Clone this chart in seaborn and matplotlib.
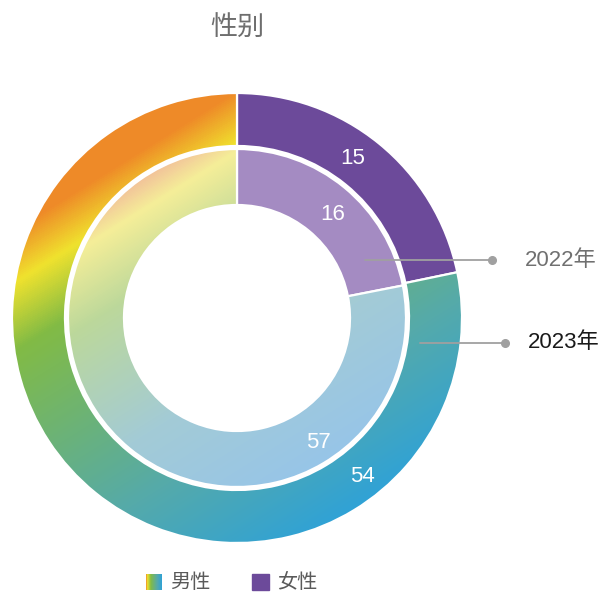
import numpy as np
import matplotlib
matplotlib.use("Agg")
import matplotlib.pyplot as plt
from matplotlib.colors import LinearSegmentedColormap
from matplotlib.patches import Rectangle
import seaborn as sns

# data
title = "性别"
categories = ["女性", "男性"]
years = ["2023年", "2022年"]
values_2023 = [15, 54]
values_2022 = [16, 57]

sns.set_theme(style="white")
plt.rcParams["font.family"] = ["Liberation Sans", "Noto Sans CJK SC", "DejaVu Sans"]

W, H = 600, 592
cx, cy = 237, 318          # centre in screen pixels (y down)

purple_outer = "#6C4A9A"
purple_inner = "#A48BC2"

grad_outer = LinearSegmentedColormap.from_list("g_out", [
    (0.00, "#EE8A28"), (0.07, "#EE8A28"), (0.17, "#F0E22E"),
    (0.30, "#82BB45"), (0.73, "#55AAAA"), (1.00, "#30A2D6")])
grad_inner = LinearSegmentedColormap.from_list("g_in", [
    (0.00, "#F2C39A"), (0.08, "#F5EE98"), (0.28, "#BCD89B"),
    (0.65, "#A3CBD6"), (1.00, "#97C5E8")])


def gradient_image(cmap, radius):
    xs = np.arange(W) + 0.5
    ys = np.arange(H) + 0.5
    X, Y = np.meshgrid(xs, ys)
    d = np.array([0.53, 0.85])
    d = d / np.linalg.norm(d)
    p = d[0] * X + d[1] * Y
    pc = d[0] * cx + d[1] * cy
    t = np.clip((p - (pc - radius)) / (2 * radius), 0, 1)
    return cmap(t)


fig = plt.figure(figsize=(6, 5.92), dpi=100)
ax = fig.add_axes([0, 0, 1, 1])

rings = [
    (values_2023, 225, 53, purple_outer, grad_outer),
    (values_2022, 169, 56, purple_inner, grad_inner),
]
for vals, r, w, purple, cmap in rings:
    wedges, _ = ax.pie(vals, radius=r, center=(cx, H - cy), startangle=90,
                       counterclock=False, colors=[purple, "none"], frame=True,
                       wedgeprops=dict(width=w, edgecolor="white", linewidth=1.6))
    male = wedges[1]
    male.set_zorder(3)
    im = ax.imshow(gradient_image(cmap, r), extent=(0, W, 0, H), origin="upper",
                   aspect="auto", zorder=2, interpolation="bilinear")
    im.set_clip_path(male)


def sy(y):
    return H - y

# value labels (screen positions)
label_pos = {
    (0, 0): (353, 158), (0, 1): (362, 477),
    (1, 0): (333, 215), (1, 1): (318, 443),
}
for ri, (vals, *_rest) in enumerate(rings):
    for ci, v in enumerate(vals):
        x, y = label_pos[(ri, ci)]
        ax.text(x, sy(y), str(v), color="white", fontsize=16,
                ha="center", va="center", zorder=5)

# leader lines for the series names
leaders = [
    ("2022年", (365, 260), (492, 260), 525, "#707070"),
    ("2023年", (420, 343), (505, 343), 528, "#1A1A1A"),
]
for name, (x0, y0), (x1, y1), tx, col in leaders:
    ax.plot([x0, x1], [sy(y0), sy(y1)], color="#A0A0A0", lw=1.3, zorder=6)
    ax.plot([x1], [sy(y1)], "o", color="#A0A0A0", ms=5.5, zorder=6)
    ax.text(tx, sy(y1), name, color=col, fontsize=16,
            ha="left", va="center", zorder=6)

# title
ax.text(cx, sy(28), title, color="#6E6E6E", fontsize=19.5,
        ha="center", va="center",
        family=["Noto Sans CJK SC", "DejaVu Sans"])

# legend
lx0, ly = 146, 582
icon = np.linspace(0, 1, 60)[None, :]
leg_cmap = LinearSegmentedColormap.from_list("g_leg", [
    (0.0, "#EE8A28"), (0.08, "#F0E22E"), (0.3, "#82BB45"), (0.7, "#55AAAA"), (1.0, "#30A2D6")])
ax.imshow(leg_cmap(icon), extent=(lx0, lx0 + 16, sy(ly + 8), sy(ly - 8)),
          aspect="auto", zorder=5)
ax.text(lx0 + 24, sy(ly), categories[1], color="#5A5A5A", fontsize=14.5,
        ha="left", va="center", family=["Noto Sans CJK SC", "DejaVu Sans"])
ax.add_patch(Rectangle((252, sy(ly + 8)), 17, 16, color=purple_outer, zorder=5))
ax.text(277, sy(ly), categories[0], color="#5A5A5A", fontsize=14.5,
        ha="left", va="center", family=["Noto Sans CJK SC", "DejaVu Sans"])

ax.set_xlim(0, W)
ax.set_ylim(0, H)
ax.axis("off")
fig.savefig("out.png", dpi=100)
